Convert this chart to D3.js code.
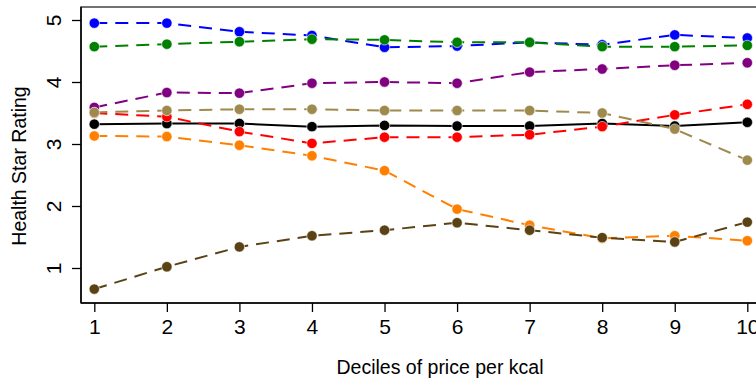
<!DOCTYPE html>
<html>
<head>
<meta charset="utf-8">
<script src="https://cdn.jsdelivr.net/npm/d3@7"></script>
<style>
  body { margin: 0; background: #fff; }
  svg { display: block; font-family: "Liberation Sans", Arial, sans-serif; }
</style>
</head>
<body>
<div id="chart"></div>
<script>
// Canvas size (matches the browser window)
var w = 756;
var h = 379;

// Deciles on the x axis
var deciles = [1, 2, 3, 4, 5, 6, 7, 8, 9, 10];
var yTicks = [1, 2, 3, 4, 5];

// Mean Health Star Rating per decile, one array per line
var blueVals   = [4.95, 4.95, 4.81, 4.75, 4.56, 4.58, 4.64, 4.60, 4.76, 4.71];
var greenVals  = [4.57, 4.61, 4.65, 4.69, 4.68, 4.64, 4.64, 4.57, 4.57, 4.59];
var purpleVals = [3.59, 3.83, 3.82, 3.98, 4.00, 3.98, 4.16, 4.21, 4.27, 4.31];
var blackVals  = [3.32, 3.33, 3.33, 3.28, 3.30, 3.29, 3.29, 3.33, 3.29, 3.35];
var redVals    = [3.50, 3.44, 3.20, 3.01, 3.11, 3.11, 3.15, 3.28, 3.47, 3.64];
var tanVals    = [3.51, 3.54, 3.56, 3.56, 3.54, 3.54, 3.54, 3.50, 3.24, 2.74];
var orangeVals = [3.13, 3.12, 2.98, 2.81, 2.57, 1.95, 1.69, 1.48, 1.52, 1.44];
var brownVals  = [0.66, 1.02, 1.34, 1.52, 1.61, 1.73, 1.61, 1.49, 1.42, 1.74];

var series = [
  { values: blueVals,   color: '#0000ff', dashed: true },
  { values: greenVals,  color: '#008000', dashed: true },
  { values: purpleVals, color: '#800080', dashed: true },
  { values: blackVals,  color: '#000000', dashed: false },
  { values: redVals,    color: '#ff0000', dashed: true },
  { values: tanVals,    color: '#9e8a4c', dashed: true },
  { values: orangeVals, color: '#ff8000', dashed: true },
  { values: brownVals,  color: '#5a4214', dashed: true }
];

// plot box (right side runs past the window, as in the original)
var box = { left: 81, top: 7, right: 820, bottom: 303 };

var x = d3.scaleLinear().domain([1, 10]).range([94.3, 747.3]);
var y = d3.scaleLinear().domain([1, 5]).range([268, 20]);

var svg = d3.select('#chart').append('svg')
  .attr('width', w)
  .attr('height', h);

// frame
svg.append('rect')
  .attr('x', box.left).attr('y', box.top)
  .attr('width', box.right - box.left).attr('height', box.bottom - box.top)
  .attr('fill', 'none').attr('stroke', '#444').attr('stroke-width', 1.5);

// left axis
var yAxis = svg.append('g')
  .attr('transform', 'translate(' + box.left + ',0)')
  .call(d3.axisLeft(y).tickValues(yTicks).tickSize(9).tickPadding(6).tickFormat(d3.format('d')));
yAxis.select('.domain').attr('d', 'M0,' + box.top + 'V' + box.bottom).attr('stroke', '#000').attr('stroke-width', 1.5);
yAxis.selectAll('.tick line').attr('stroke-width', 1.3);
yAxis.selectAll('.tick text')
  .attr('font-size', 21)
  .attr('fill', '#000')
  .attr('text-anchor', 'middle')
  .attr('x', null).attr('dy', null)
  .attr('transform', 'translate(-28,0) rotate(-90)')
  .attr('dominant-baseline', 'central');

// bottom axis
var xAxis = svg.append('g')
  .attr('transform', 'translate(0,' + box.bottom + ')')
  .call(d3.axisBottom(x).tickValues(deciles).tickSize(9).tickPadding(7).tickFormat(d3.format('d')));
xAxis.select('.domain').attr('d', 'M' + box.left + ',0H' + box.right).attr('stroke', '#000').attr('stroke-width', 1.5);
xAxis.selectAll('.tick line').attr('stroke-width', 1.3);
xAxis.selectAll('.tick text').attr('font-size', 21).attr('fill', '#000');

// axis titles
svg.append('text')
  .attr('transform', 'translate(19,166) rotate(-90)')
  .attr('text-anchor', 'middle')
  .attr('dominant-baseline', 'central')
  .attr('font-size', 19.5)
  .text('Health Star Rating');

svg.append('text')
  .attr('x', 440).attr('y', 367)
  .attr('text-anchor', 'middle')
  .attr('dominant-baseline', 'central')
  .attr('font-size', 19.5)
  .text('Deciles of price per kcal');

var line = d3.line()
  .x(function(d, i) { return x(deciles[i]); })
  .y(function(d) { return y(d); });

var groups = svg.append('g').selectAll('g')
  .data(series)
  .enter().append('g');

groups.append('path')
  .attr('d', function(s) { return line(s.values); })
  .attr('fill', 'none')
  .attr('stroke', function(s) { return s.color; })
  .attr('stroke-width', 2)
  .attr('stroke-dasharray', function(s) { return s.dashed ? '13,8' : null; });

groups.selectAll('circle')
  .data(function(s) { return s.values.map(function(v, i) { return { v: v, i: i, color: s.color }; }); })
  .enter().append('circle')
  .attr('cx', function(d) { return x(deciles[d.i]); })
  .attr('cy', function(d) { return y(d.v); })
  .attr('r', 5.2)
  .attr('fill', function(d) { return d.color; })
  .attr('stroke', '#fff')
  .attr('stroke-width', 0.6);
</script>
</body>
</html>
